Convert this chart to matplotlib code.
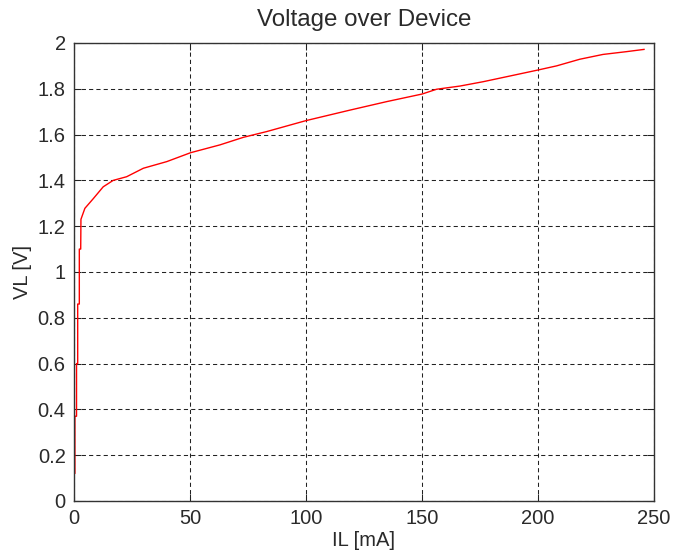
import matplotlib
matplotlib.use("Agg")
import matplotlib.pyplot as plt
from matplotlib.ticker import FormatStrFormatter, MultipleLocator

# Load current (mA) and voltage over device (V)
il_ma = [0, 0, 0.4, 0.4, 1.1, 1.1, 1.6, 1.6, 2.3, 2.3, 2.9, 3.0,
         4.7, 8.3, 12.6, 16.9, 22.7, 29.9, 40.0, 50.3, 62.9, 73.0,
         83.0, 100.0, 119.0, 134.8, 150.0, 156.3, 166.4, 176.4, 188.0,
         200.0, 208.0, 218.0, 228.0, 238.0, 245.7]
vl_v = [0, 0.12, 0.12, 0.37, 0.37, 0.60, 0.60, 0.86, 0.86, 1.10, 1.10, 1.23,
        1.278, 1.32, 1.372, 1.40, 1.416, 1.453, 1.482, 1.521, 1.555, 1.588,
        1.613, 1.661, 1.707, 1.744, 1.777, 1.798, 1.812, 1.831, 1.856,
        1.882, 1.900, 1.929, 1.950, 1.962, 1.972]

TEXT = "#2a2a2a"

plt.rcParams["font.family"] = ["Liberation Sans", "DejaVu Sans"]
plt.rcParams["font.size"] = 14.5
plt.rcParams["text.color"] = TEXT

fig = plt.figure(figsize=(6.75, 5.59), dpi=100, facecolor="white")
ax = fig.add_axes([0.1096, 0.1038, 0.8593, 0.8193])

ax.plot(il_ma, vl_v, color="red", linewidth=1.0)

ax.set_xlim(0, 250)
ax.set_ylim(0, 2)
ax.xaxis.set_major_locator(MultipleLocator(50))
ax.yaxis.set_major_locator(MultipleLocator(0.2))
ax.yaxis.set_major_formatter(FormatStrFormatter("%g"))

ax.grid(True, color="#222222", linewidth=0.75, linestyle=(0, (4, 3)))
ax.tick_params(direction="in", length=5, width=0.75, top=True, right=True,
               pad=6, colors="#222222", labelcolor=TEXT)
for sp in ax.spines.values():
    sp.set_linewidth(1.0)
    sp.set_color("#333333")

ax.set_title("Voltage over Device", pad=12, color=TEXT)
ax.set_xlabel("IL [mA]", labelpad=2, color=TEXT)
ax.set_ylabel("VL [V]", labelpad=4, color=TEXT)

fig.savefig("out.png", dpi=100, facecolor="white")
